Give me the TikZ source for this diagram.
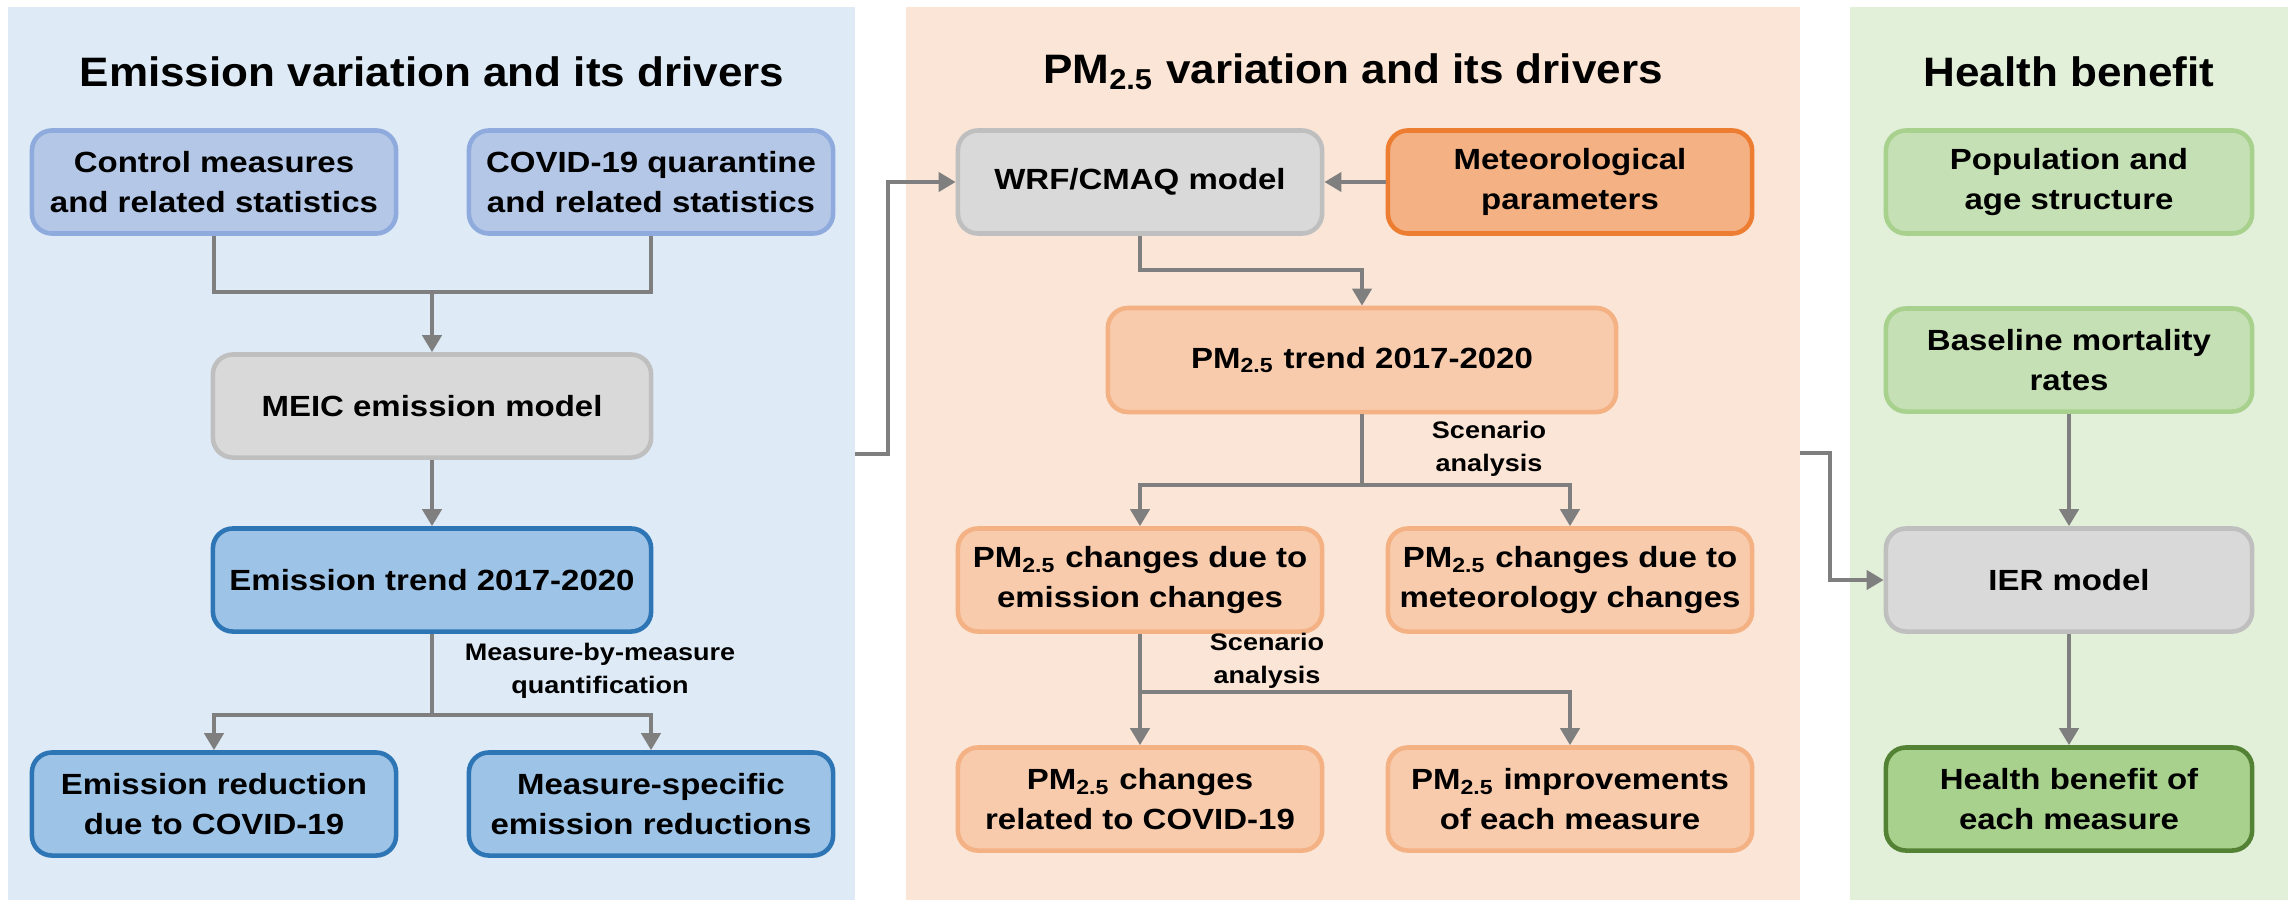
\documentclass[tikz,border=0pt]{standalone}
\usepackage{fontspec}
\setmainfont{Liberation Sans}
\newfontfamily\boxfam{Liberation Sans}[FakeStretch=1.13]
\newfontfamily\ttlfam{Liberation Sans}[FakeStretch=1.07]
\usetikzlibrary{arrows.meta}
\definecolor{bgblue}{HTML}{DEEBF7}
\definecolor{bgpeach}{HTML}{FBE5D6}
\definecolor{bggreen}{HTML}{E2F0D9}
\definecolor{lbfill}{HTML}{B4C7E7}
\definecolor{lbdraw}{HTML}{8FAADC}
\definecolor{dbfill}{HTML}{9DC3E6}
\definecolor{dbdraw}{HTML}{2E75B6}
\definecolor{gyfill}{HTML}{D9D9D9}
\definecolor{gydraw}{HTML}{BFBFBF}
\definecolor{orfill}{HTML}{F8CBAD}
\definecolor{ordraw}{HTML}{F4B183}
\definecolor{mtfill}{HTML}{F4B183}
\definecolor{mtdraw}{HTML}{ED7D31}
\definecolor{grfill}{HTML}{C5E0B4}
\definecolor{grdraw}{HTML}{A9D18E}
\definecolor{hbfill}{HTML}{A9D18E}
\definecolor{hbdraw}{HTML}{548235}
\definecolor{connc}{HTML}{7F7F7F}
\newcommand\myboxfont{\boxfam\fontsize{8.3}{11.38}\selectfont\bfseries}
\newcommand\myttlfont{\ttlfam\fontsize{11.7}{14}\selectfont\bfseries}
\newcommand\mylabfont{\boxfam\fontsize{6.8}{9.5}\selectfont\bfseries}
\begin{document}
\begin{tikzpicture}[x=0.01cm,y=-0.01cm,
  box/.style={draw, line width=1.3pt, rounded corners=0.2cm, minimum width=3.64cm,
    minimum height=1.03cm, align=center, inner sep=0pt, font=\myboxfont},
  lbbox/.style={box, fill=lbfill, draw=lbdraw},
  dbbox/.style={box, fill=dbfill, draw=dbdraw},
  gybox/.style={box, fill=gyfill, draw=gydraw},
  orbox/.style={box, fill=orfill, draw=ordraw},
  mtbox/.style={box, fill=mtfill, draw=mtdraw},
  grbox/.style={box, fill=grfill, draw=grdraw},
  hbbox/.style={box, fill=hbfill, draw=hbdraw},
  conn/.style={draw=connc, line width=1.15pt},
  arr/.style={conn, -{Triangle[length=0.17cm,width=0.19cm]}},
  ttl/.style={font=\myttlfont, inner sep=0pt},
  lab/.style={font=\mylabfont, align=center, inner sep=0pt}
]
\useasboundingbox (0,0) rectangle (2292,900);
\fill[white] (0,0) rectangle (2292,900);
% panels
\fill[bgblue] (8,7) rectangle (855,900);
\fill[bgpeach] (906,7) rectangle (1800,900);
\fill[bggreen] (1850,7) rectangle (2288,900);
% titles
\node[ttl] (t1) at (432,72) {Emission variation and its drivers};
\node[ttl] (t2) at (1353,72) {PM\textsubscript{2.5} variation and its drivers};
\node[ttl] (t3) at (2069,72) {Health benefit};
% panel 1
\node[lbbox] (cm) at (214,182) {Control measures\\and related statistics};
\node[lbbox] (cq) at (651,182) {COVID-19 quarantine\\and related statistics};
\node[gybox, minimum width=4.38cm] (meic) at (432,406) {MEIC emission model};
\node[dbbox, minimum width=4.38cm] (et) at (432,580) {Emission trend 2017-2020};
\node[dbbox] (er) at (214,804) {Emission reduction\\due to COVID-19};
\node[dbbox] (ms) at (651,804) {Measure-specific\\emission reductions};
\node[lab] (l1) at (600,671) {Measure-by-measure\\quantification};
\coordinate (j1) at (432,292);
\draw[conn] (cm.south) |- (j1) -| (cq.south);
\draw[arr] (j1) -- (meic.north);
\draw[arr] (meic) -- (et);
\coordinate (j2) at (432,715);
\draw[conn] (et.south) -- (j2);
\draw[arr] (j2) -| (er.north);
\draw[arr] (j2) -| (ms.north);
% panel 2
\node[gybox] (wrf) at (1140,182) {WRF/CMAQ model};
\node[mtbox] (met) at (1570,182) {Meteorological\\parameters};
\node[orbox, minimum width=5.08cm, minimum height=1.04cm] (pmt) at (1362,360) {PM\textsubscript{2.5} trend 2017-2020};
\node[orbox] (pe) at (1140,580) {PM\textsubscript{2.5} changes due to\\emission changes};
\node[orbox] (pm) at (1570,580) {PM\textsubscript{2.5} changes due to\\meteorology changes};
\node[orbox] (pc) at (1140,799) {PM\textsubscript{2.5} changes\\related to COVID-19};
\node[orbox] (pi) at (1570,799) {PM\textsubscript{2.5} improvements\\of each measure};
\node[lab] (l2) at (1489,449) {Scenario\\analysis};
\node[lab] (l3) at (1267,661) {Scenario\\analysis};
\coordinate (p1e) at (855,454);
\coordinate (k1) at (888,454);
\draw[arr] (p1e) -- (k1) |- (wrf.west);
\draw[arr] (met) -- (wrf);
\coordinate (j3) at (1362,270);
\draw[arr] (wrf.south) |- (j3) -- (pmt.north);
\coordinate (j4) at (1362,485);
\draw[conn] (pmt.south) -- (j4);
\draw[arr] (j4) -| (pe.north);
\draw[arr] (j4) -| (pm.north);
\coordinate (j5) at (1140,692);
\draw[arr] (pe.south) -- (pc.north);
\draw[arr] (j5) -| (pi.north);
% panel 3
\node[grbox, minimum width=3.66cm] (pop) at (2069,182) {Population and\\age structure};
\node[grbox, minimum width=3.66cm] (bmr) at (2069,360) {Baseline mortality\\rates};
\node[gybox, minimum width=3.66cm] (ier) at (2069,580) {IER model};
\node[hbbox, minimum width=3.66cm] (hb) at (2069,799) {Health benefit of\\each measure};
\draw[arr] (bmr) -- (ier);
\draw[arr] (ier) -- (hb);
\coordinate (p2e) at (1800,453);
\coordinate (k2) at (1830,453);
\draw[arr] (p2e) -- (k2) |- (ier.west);
\end{tikzpicture}
\end{document}
